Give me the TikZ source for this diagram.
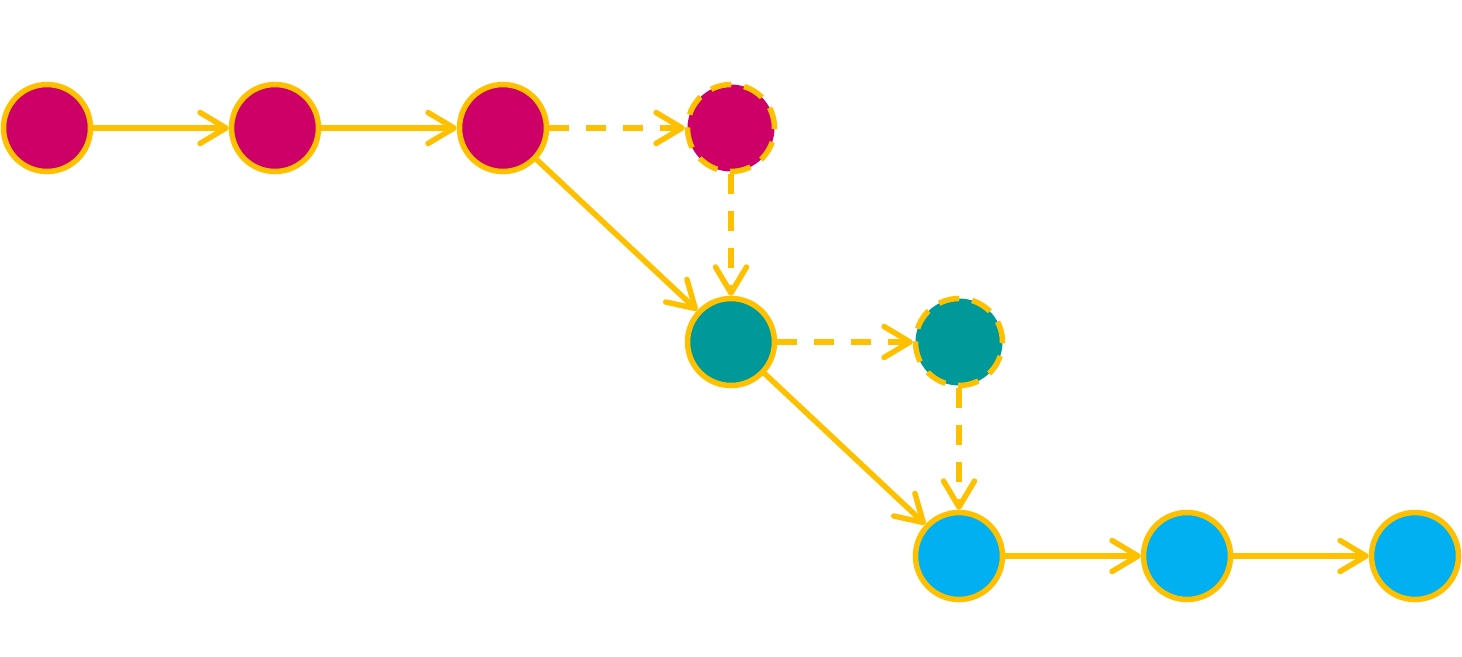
\documentclass[tikz,border=0pt]{standalone}
\usepackage{tikz}
\usetikzlibrary{arrows.meta}
\definecolor{commitmagenta}{HTML}{CC0066}
\definecolor{committeal}{HTML}{009999}
\definecolor{commitcyan}{HTML}{00B0F0}
\definecolor{edgegold}{HTML}{FFC000}
\tikzset{
  commit/.style={circle,draw=edgegold,line width=0.11cm,minimum size=1.74cm,inner sep=0pt},
  ghost/.style={commit,dash pattern=on 0.42cm off 0.26cm},
  link/.style={->,draw=edgegold,line width=0.11cm},
  ghostlink/.style={link,dash pattern=on 0.4cm off 0.34cm},
}
\begin{document}
\begin{tikzpicture}[>={Straight Barb[length=0.52cm,width=0.62cm,round]}]
  \useasboundingbox (0,0) rectangle (29.24,-13.12);
  % commits on the first line
  \foreach \i/\x in {1/0.94,2/5.5,3/10.06}
    \node[commit,fill=commitmagenta] (a\i) at (\x,-2.56) {};
  \node[ghost,fill=commitmagenta] (a4) at (14.62,-2.56) {};
  % rebased line
  \node[commit,fill=committeal] (b1) at (14.62,-6.84) {};
  \node[ghost,fill=committeal] (b2) at (19.18,-6.84) {};
  \foreach \i/\x in {1/19.18,2/23.74,3/28.3}
    \node[commit,fill=commitcyan] (c\i) at (\x,-11.12) {};
  \draw[link] (a1) -- (a2);
  \draw[link] (a2) -- (a3);
  \draw[ghostlink] (a3) -- (a4);
  \draw[ghostlink] (a4) -- (b1);
  \draw[link] (a3) -- (b1);
  \draw[ghostlink] (b1) -- (b2);
  \draw[ghostlink] (b2) -- (c1);
  \draw[link] (b1) -- (c1);
  \draw[link] (c1) -- (c2);
  \draw[link] (c2) -- (c3);
\end{tikzpicture}
\end{document}
